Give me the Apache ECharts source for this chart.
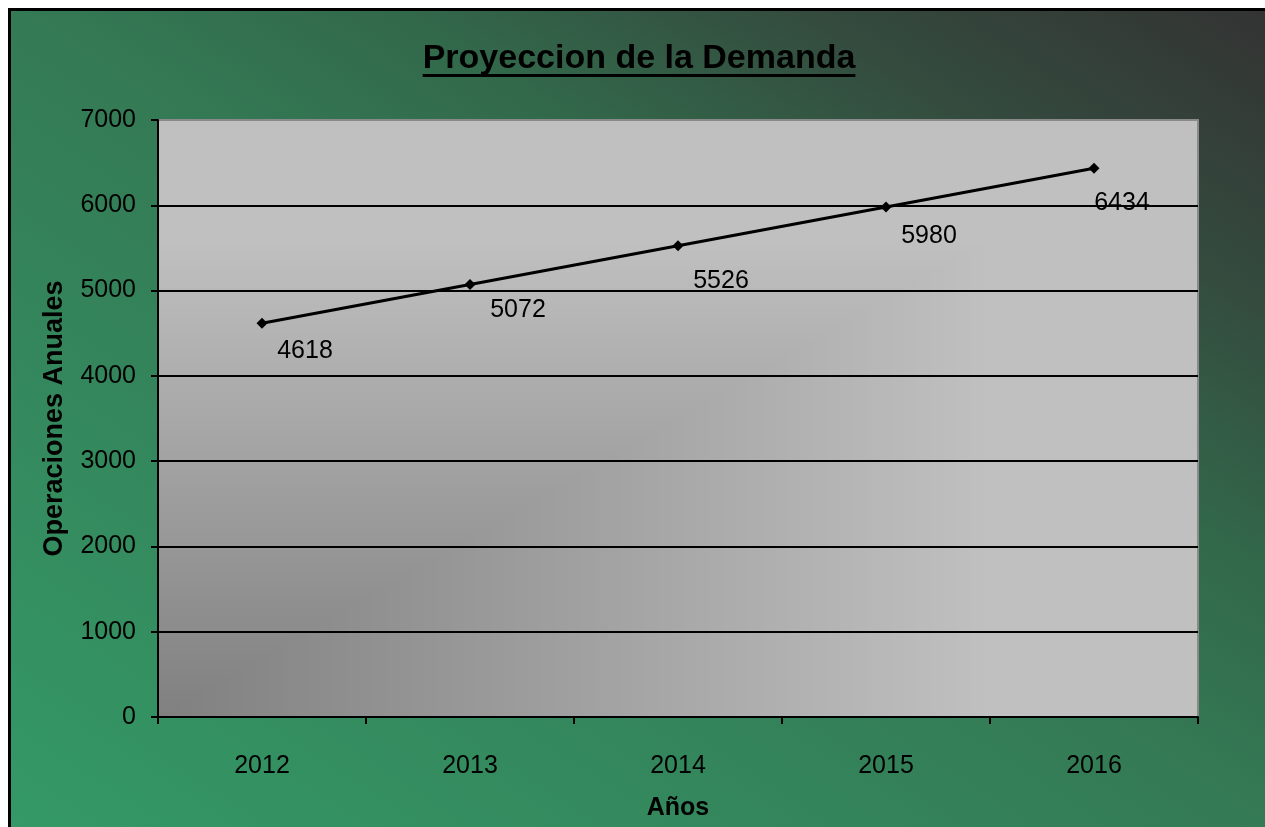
<!DOCTYPE html>
<html>
<head>
<meta charset="utf-8">
<script src="https://cdn.jsdelivr.net/npm/echarts@6/dist/echarts.min.js"></script>
<style>
  html, body { margin: 0; padding: 0; background: #ffffff; overflow: hidden; }
  #chart {
    position: absolute; left: 8px; top: 8px;
    width: 1254px; height: 816px;
    border-top: 3px solid #000; border-left: 3px solid #000;
  }
</style>
</head>
<body>
<div id="chart"></div>
<script>
// Annual demand projection
const years = ['2012', '2013', '2014', '2015', '2016'];
const operaciones = [4618, 5072, 5526, 5980, 6434];
const yTicks = { min: 0, max: 7000, step: 1000 };

// Per-point nudge of the value labels (pixels, from the marker)
const labelNudge = [[43, 28], [48, 26], [43, 35], [43, 29], [28, 35]];

const FONT = '"Liberation Sans", Arial, sans-serif';
const titleText = 'Proyeccion de la Demanda';
const titleSize = 34;

// Plot rectangle inside the chart canvas
const PLOT = { left: 147, top: 109, width: 1040, height: 597 };

const chart = echarts.init(document.getElementById('chart'), null, { renderer: 'canvas' });
const W = chart.getWidth();
const H = chart.getHeight();

// Title width, for the underline
const mctx = document.createElement('canvas').getContext('2d');
mctx.font = 'bold ' + titleSize + 'px ' + FONT;
const titleW = mctx.measureText(titleText).width;
const titleX = 628;

// Diagonal background: green at lower-left to charcoal at upper-right
const L2 = W * W + H * H;
const k = 2 * W * H / L2;
const bg = new echarts.graphic.LinearGradient(0, H, H * k, H - W * k, [
  { offset: 0, color: '#349966' },
  { offset: 0.5, color: '#347a55' },
  { offset: 0.65, color: '#32694b' },
  { offset: 0.82, color: '#344b3e' },
  { offset: 1, color: '#333333' }
], true);

// Plot fill: "from corner" gray ramp, dark at the lower-left corner
function cornerRamp(w, h) {
  const c = document.createElement('canvas');
  c.width = w; c.height = h;
  const ctx = c.getContext('2d');
  const img = ctx.createImageData(w, h);
  for (let y = 0; y < h; y++) {
    const fy = (h - 1 - y) / (h - 1);
    for (let x = 0; x < w; x++) {
      const fx = x / (w - 1);
      const t = Math.min(1, Math.max(fx, fy) / 0.8);
      const g = Math.round(128 + 64 * t);
      const i = (y * w + x) * 4;
      img.data[i] = g; img.data[i + 1] = g; img.data[i + 2] = g; img.data[i + 3] = 255;
    }
  }
  ctx.putImageData(img, 0, 0);
  return c;
}
const plotFill = {
  image: cornerRamp(PLOT.width, PLOT.height),
  repeat: 'no-repeat',
  x: PLOT.left,
  y: PLOT.top
};

const option = {
  animation: false,
  backgroundColor: bg,
  graphic: [
    {
      type: 'text', x: titleX, y: 48, silent: true,
      style: {
        text: titleText, fill: '#000', align: 'center', verticalAlign: 'middle',
        font: 'bold ' + titleSize + 'px ' + FONT
      }
    },
    {
      type: 'rect', silent: true,
      shape: { x: titleX - titleW / 2, y: 63, width: titleW, height: 3 },
      style: { fill: '#000' }
    }
  ],
  grid: {
    left: PLOT.left, top: PLOT.top, width: PLOT.width, height: PLOT.height,
    show: true, backgroundColor: plotFill,
    borderColor: '#8a8a8a', borderWidth: 2,
    containLabel: false
  },
  xAxis: {
    type: 'category',
    data: years,
    boundaryGap: true,
    name: 'Años',
    nameLocation: 'middle',
    nameGap: 79,
    nameTextStyle: { color: '#000', fontFamily: FONT, fontWeight: 'bold', fontSize: 25 },
    axisLine: { show: true, lineStyle: { color: '#000', width: 2 } },
    axisTick: { show: true, alignWithLabel: false, length: 7, lineStyle: { color: '#000', width: 2 } },
    axisLabel: { color: '#000', fontFamily: FONT, fontSize: 25, margin: 37 },
    splitLine: { show: false }
  },
  yAxis: {
    type: 'value',
    min: yTicks.min, max: yTicks.max, interval: yTicks.step,
    name: 'Operaciones Anuales',
    nameLocation: 'middle',
    nameGap: 90,
    nameRotate: 90,
    nameTextStyle: { color: '#000', fontFamily: FONT, fontWeight: 'bold', fontSize: 27 },
    axisLine: { show: true, lineStyle: { color: '#000', width: 2 } },
    axisTick: { show: true, length: 7, lineStyle: { color: '#000', width: 2 } },
    axisLabel: { color: '#000', fontFamily: FONT, fontSize: 25, margin: 22, formatter: v => String(v) },
    splitLine: { show: true, showMaxLine: false, lineStyle: { color: '#000', width: 2 } }
  },
  series: [{
    type: 'line',
    data: operaciones.map((v, i) => ({
      value: v,
      label: { offset: labelNudge[i] }
    })),
    symbol: 'diamond',
    symbolSize: 11,
    lineStyle: { color: '#000', width: 3 },
    itemStyle: { color: '#000' },
    label: {
      show: true,
      position: 'inside',
      color: '#000',
      fontFamily: FONT,
      fontSize: 25,
      formatter: p => String(p.value)
    }
  }]
};

chart.setOption(option);
</script>
</body>
</html>
